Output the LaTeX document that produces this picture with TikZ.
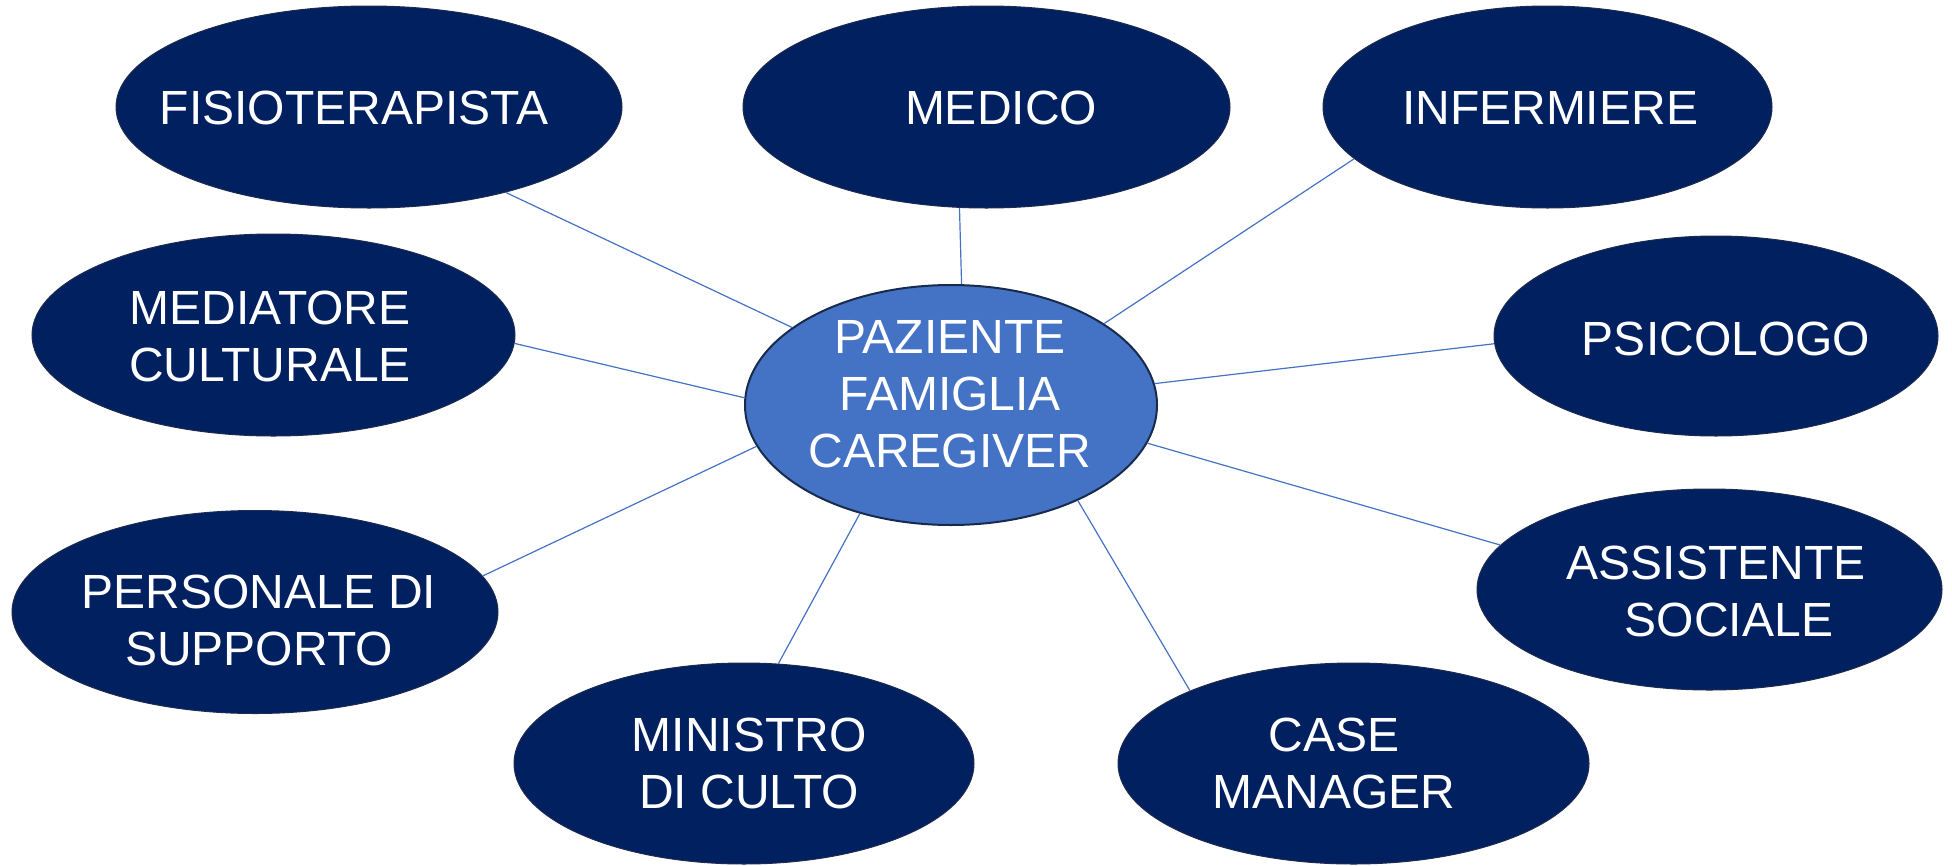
\documentclass[tikz,border=0pt]{standalone}
\usepackage{fontspec}
\setmainfont{Liberation Sans}
\usetikzlibrary{shapes.geometric}
\definecolor{navy}{HTML}{002060}
\definecolor{midblue}{HTML}{4472C4}
\definecolor{ctrline}{HTML}{172B4D}
\definecolor{navyline}{HTML}{1E2B4E}
\tikzset{
  role/.style={ellipse, fill=navy, draw=navyline, line width=1pt, inner sep=0pt},
  hub/.style={ellipse, fill=midblue, draw=ctrline, line width=2pt, inner sep=0pt},
  lbl/.style={text=white, inner sep=0pt, align=center, font=\fontsize{48}{57}\selectfont},
  link/.style={draw=midblue, line width=1.2pt},
}
\begin{document}
\begin{tikzpicture}[x=1pt,y=-1pt]
\useasboundingbox (0,0) rectangle (1952,865);
% ellipses
\node[role, minimum width=506pt, minimum height=202pt] (fis) at (369,107) {};
\node[role, minimum width=487pt, minimum height=202pt] (med) at (986.5,107) {};
\node[role, minimum width=449pt, minimum height=202pt] (inf) at (1547.5,107) {};
\node[role, minimum width=483pt, minimum height=202pt] (mdc) at (273.5,335) {};
\node[role, minimum width=444pt, minimum height=200pt] (psi) at (1716,336) {};
\node[role, minimum width=486pt, minimum height=203pt] (per) at (255,612) {};
\node[role, minimum width=465pt, minimum height=201pt] (ass) at (1709.5,589.5) {};
\node[role, minimum width=460pt, minimum height=201pt] (min) at (744,763.5) {};
\node[role, minimum width=471pt, minimum height=201pt] (cas) at (1353.5,763.5) {};
\node[hub, minimum width=412pt, minimum height=240pt] (ctr) at (951,405) {};
% connectors
\draw[link] (fis.-32.5) -- (ctr.154.6);
\draw[link] (med.-105.1) -- (ctr.85.3);
\draw[link] (inf.-165.9) -- (ctr.28.5);
\draw[link] (mdc.-2.1) -- (ctr.178.1);
\draw[link] (psi.-178.7) -- (ctr.6.4);
\draw[link] (per.9.5) -- (ctr.-168.1);
\draw[link] (ass.168.3) -- (ctr.-11.2);
\draw[link] (min.71.8) -- (ctr.-130.8);
\draw[link] (cas.156.7) -- (ctr.-37.9);
% texts
\node[lbl] (fist) at (354,108) {FISIOTERAPISTA};
\node[lbl] (medt) at (1001,108) {MEDICO};
\node[lbl] (inft) at (1550,108) {INFERMIERE};
\node[lbl] (mdct) at (270,336) {MEDIATORE\\CULTURALE};
\node[lbl] (psit) at (1726,339) {PSICOLOGO};
\node[lbl] (pert) at (259,620) {PERSONALE DI\\SUPPORTO};
\node[lbl] (asst) at (1716,591) {ASSISTENTE\\\hspace*{26pt}SOCIALE};
\node[lbl] (mint) at (749,763) {MINISTRO\\DI CULTO};
\node[lbl] (cast) at (1334,763) {CASE\\MANAGER};
\node[lbl] (ctrt) at (950,394) {PAZIENTE\\FAMIGLIA\\CAREGIVER};
\end{tikzpicture}
\end{document}
